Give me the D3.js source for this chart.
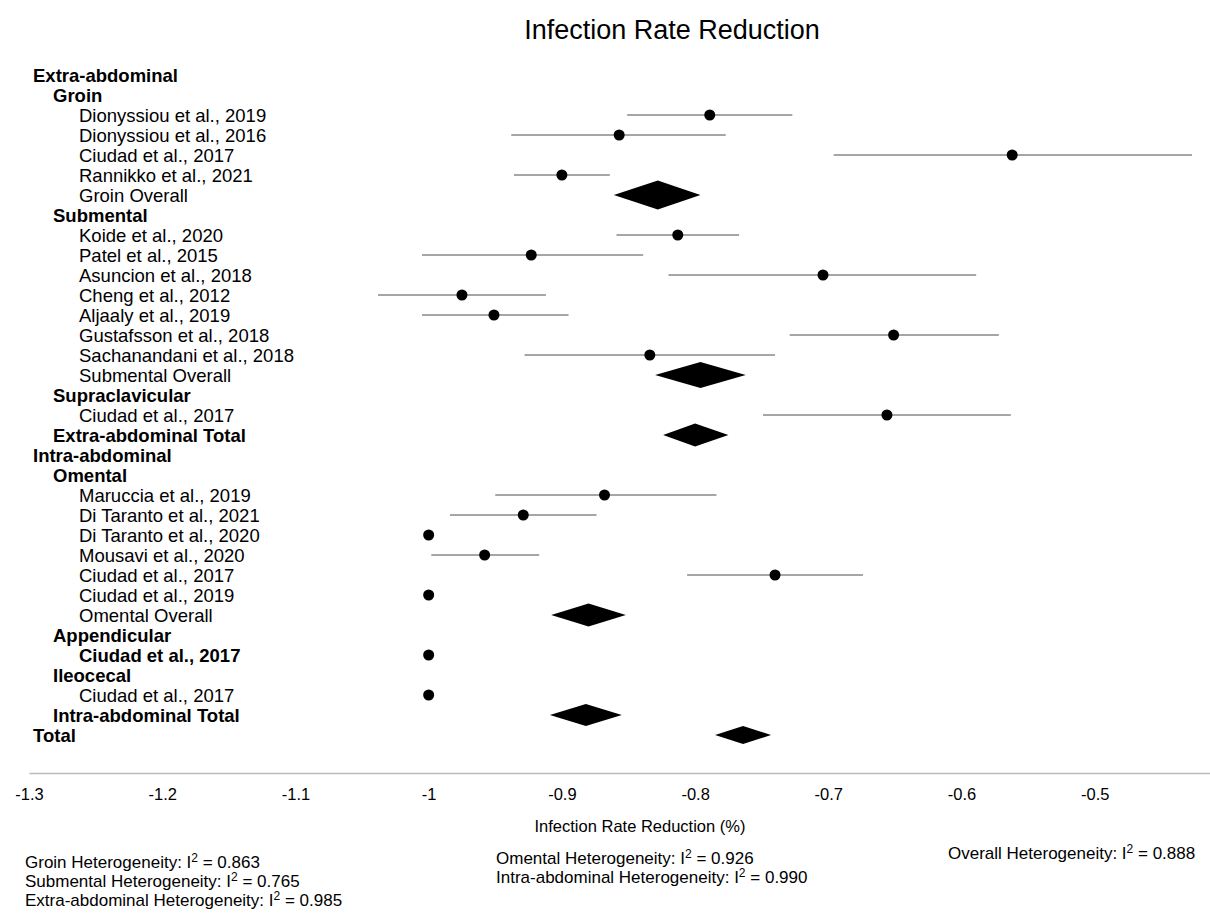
<!DOCTYPE html>
<html>
<head>
<meta charset="utf-8">
<script src="https://cdn.jsdelivr.net/npm/d3@7"></script>
<style>
  body { margin: 0; background: #fff; }
  text { font-family: "Liberation Sans", Arial, sans-serif; }
</style>
</head>
<body>
<script>
// rows of the forest plot, top to bottom
var labels = [
    'Extra-abdominal', 'Groin',
    'Dionyssiou et al., 2019', 'Dionyssiou et al., 2016', 'Ciudad et al., 2017', 'Rannikko et al., 2021', 'Groin Overall',
    'Submental',
    'Koide et al., 2020', 'Patel et al., 2015', 'Asuncion et al., 2018', 'Cheng et al., 2012', 'Aljaaly et al., 2019',
    'Gustafsson et al., 2018', 'Sachanandani et al., 2018', 'Submental Overall',
    'Supraclavicular', 'Ciudad et al., 2017', 'Extra-abdominal Total',
    'Intra-abdominal', 'Omental',
    'Maruccia et al., 2019', 'Di Taranto et al., 2021', 'Di Taranto et al., 2020', 'Mousavi et al., 2020',
    'Ciudad et al., 2017', 'Ciudad et al., 2019', 'Omental Overall',
    'Appendicular', 'Ciudad et al., 2017',
    'Ileocecal', 'Ciudad et al., 2017',
    'Intra-abdominal Total', 'Total'
];
// g = group header, sg = subgroup header, st = study, stb = study (bold), ov = subgroup overall, tot = total
var kinds = [
    'g', 'sg', 'st', 'st', 'st', 'st', 'ov',
    'sg', 'st', 'st', 'st', 'st', 'st', 'st', 'st', 'ov',
    'sg', 'st', 'tot',
    'g', 'sg', 'st', 'st', 'st', 'st', 'st', 'st', 'ov',
    'sg', 'stb',
    'sg', 'st',
    'tot', 'g'
];
var estimates = [
    null, null, -0.789, -0.857, -0.562, -0.900, -0.828,
    null, -0.813, -0.923, -0.704, -0.975, -0.951, -0.651, -0.834, -0.796,
    null, -0.656, -0.800,
    null, null, -0.868, -0.929, -1.000, -0.958, -0.740, -1.000, -0.880,
    null, -1.000,
    null, -1.000,
    -0.882, -0.764
];
var lowers = [
    null, null, -0.851, -0.938, -0.696, -0.936, -0.861,
    null, -0.859, -1.005, -0.820, -1.038, -1.005, -0.729, -0.928, -0.830,
    null, -0.749, -0.824,
    null, null, -0.950, -0.984, -1.000, -0.998, -0.806, -1.000, -0.908,
    null, -1.000,
    null, -1.000,
    -0.909, -0.785
];
var uppers = [
    null, null, -0.727, -0.777, -0.427, -0.864, -0.796,
    null, -0.767, -0.839, -0.589, -0.912, -0.895, -0.572, -0.740, -0.762,
    null, -0.563, -0.775,
    null, null, -0.784, -0.874, -1.000, -0.917, -0.674, -1.000, -0.852,
    null, -1.000,
    null, -1.000,
    -0.855, -0.743
];
var tickValues = [-1.3, -1.2, -1.1, -1.0, -0.9, -0.8, -0.7, -0.6, -0.5];

var hetLabels = [
    ['Groin Heterogeneity: ', 'Submental Heterogeneity: ', 'Extra-abdominal Heterogeneity: '],
    ['Omental Heterogeneity: ', 'Intra-abdominal Heterogeneity: '],
    ['Overall Heterogeneity: ']
];
var hetValues = [['0.863', '0.765', '0.985'], ['0.926', '0.990'], ['0.888']];

var width = 1210, height = 915;
var svg = d3.select('body').append('svg')
    .attr('width', width)
    .attr('height', height);

var x = d3.scaleLinear().domain([-1.3, -0.4135]).range([29, 1210]);
var y = d3.scaleLinear().domain([0, labels.length - 1]).range([75, 735]);

// title
svg.append('text')
    .attr('x', 672)
    .attr('y', 39)
    .attr('text-anchor', 'middle')
    .style('font-size', '27px')
    .text('Infection Rate Reduction');

// row labels
var indent = { g: 33, sg: 53, st: 79, stb: 79, ov: 79, tot: 53 };
labels.forEach(function(d, i) {
    var k = kinds[i];
    svg.append('text')
        .attr('x', indent[k])
        .attr('y', y(i) + 6.5)
        .style('font-size', '18.5px')
        .style('font-weight', (k === 'st' || k === 'ov') ? 'normal' : 'bold')
        .text(d);
});

// studies: CI line + dot, summaries: diamonds
var diamondHalf = [14.5, 13, 11.5, 11.5, 11, 9];
var di = 0;
labels.forEach(function(d, i) {
    var k = kinds[i];
    if (estimates[i] === null) return;
    if (k === 'st' || k === 'stb') {
        if (lowers[i] !== uppers[i]) {
            svg.append('line')
                .attr('x1', x(lowers[i]))
                .attr('x2', x(uppers[i]))
                .attr('y1', y(i))
                .attr('y2', y(i))
                .style('stroke', '#4d4d4d')
                .style('stroke-width', 1);
        }
        svg.append('circle')
            .attr('cx', x(estimates[i]))
            .attr('cy', y(i))
            .attr('r', 5.5)
            .style('fill', 'black');
    } else {
        var h = diamondHalf[di++];
        var pts = [
            [x(lowers[i]), y(i)],
            [x(estimates[i]), y(i) - h],
            [x(uppers[i]), y(i)],
            [x(estimates[i]), y(i) + h]
        ];
        svg.append('polygon')
            .attr('points', pts.map(function(p) { return p.join(','); }).join(' '))
            .style('fill', 'black');
    }
});

// axis
var axis = d3.axisBottom(x)
    .tickValues(tickValues)
    .tickSize(0)
    .tickPadding(15)
    .tickFormat(function(d) { return String(+d.toFixed(1)); });
var gAxis = svg.append('g')
    .attr('transform', 'translate(0,773)')
    .call(axis);
gAxis.select('.domain').style('stroke', '#bbb').style('stroke-width', 1.5);
gAxis.selectAll('text')
    .style('font-family', '"Liberation Sans", Arial, sans-serif')
    .style('font-size', '16.5px')
    .style('fill', 'black');

svg.append('text')
    .attr('x', 640)
    .attr('y', 832)
    .attr('text-anchor', 'middle')
    .style('font-size', '16.5px')
    .text('Infection Rate Reduction (%)');

// heterogeneity notes
var hetX = [25, 496, 948];
var hetY = [868, 864, 859];
hetLabels.forEach(function(col, c) {
    col.forEach(function(lab, r) {
        var t = svg.append('text')
            .attr('x', hetX[c])
            .attr('y', hetY[c] + r * 19)
            .style('font-size', '17px');
        t.append('tspan').text(lab + 'I');
        t.append('tspan').attr('dy', -6).style('font-size', '12px').text('2');
        t.append('tspan').attr('dy', 6).text(' = ' + hetValues[c][r]);
    });
});
</script>
</body>
</html>
